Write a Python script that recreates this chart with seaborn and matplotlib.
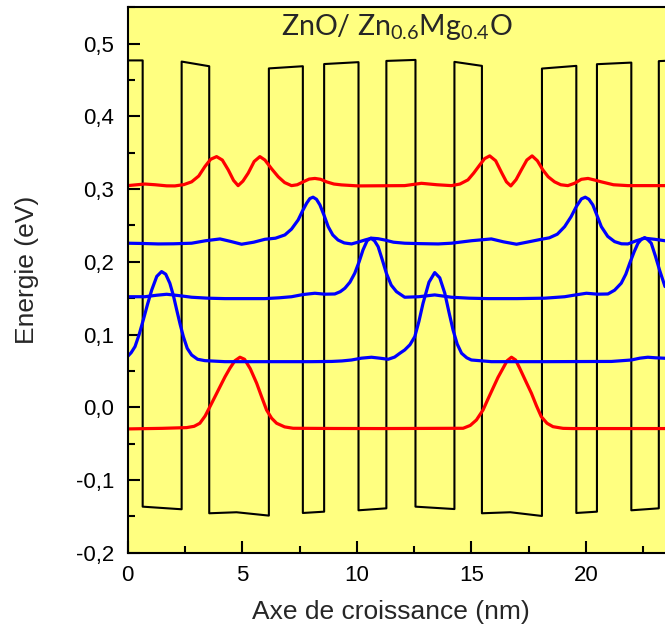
import matplotlib
matplotlib.use('Agg')
from matplotlib import pyplot as plt
from matplotlib.ticker import MultipleLocator, FuncFormatter
import pandas as pd
import seaborn as sns

# potential profile (barrier / well corners), nm and eV
pot_x = [0.0, 0.654, 0.654, 2.355, 2.355, 3.559, 3.559, 4.75, 6.162, 6.162, 7.645,
         7.645, 8.574, 8.574, 10.074, 10.074, 11.29, 11.29, 12.56, 12.56, 14.26,
         14.26, 15.46, 15.46, 16.7, 18.08, 18.08, 19.58, 19.58, 20.48, 20.48, 21.98,
         21.98, 23.18, 23.18, 23.5]
pot_e = [0.477, 0.477, -0.1367, -0.1403, 0.4754, 0.469, -0.1458, -0.1444, -0.149, 0.466, 0.469,
         -0.1454, -0.1436, 0.472, 0.4746, -0.1417, -0.139, 0.4763, 0.4777, -0.1367, -0.140,
         0.475, 0.4695, -0.1458, -0.1444, -0.1495, 0.4658, 0.4695, -0.1454, -0.1436, 0.4718, 0.474,
         -0.1417, -0.139, 0.476, 0.4765]

# red, ground level
e1_x = [0.0, 1.5, 2.57, 2.9, 3.15, 3.38, 3.59, 3.81, 4.03, 4.25, 4.46, 4.68, 4.9, 5.1, 5.35,
        5.63, 5.85, 6.06, 6.28, 6.5, 6.85, 7.22, 9.0, 11.0, 13.0, 14.64, 14.95, 15.22, 15.51,
        15.72, 15.94, 16.16, 16.38, 16.56, 16.75, 16.93, 17.11, 17.37, 17.62, 17.84, 18.05,
        18.3, 18.56, 19.0, 19.43, 23.45]
e1_y = [-0.0298, -0.029, -0.028, -0.0262, -0.022, -0.012, 0.0008, 0.0145, 0.0283, 0.042, 0.0536,
        0.064, 0.0688, 0.066, 0.053, 0.033, 0.014, -0.0037, -0.015, -0.022, -0.027, -0.0289,
        -0.0292, -0.0293, -0.0291, -0.0289, -0.025, -0.0175, -0.0037, 0.011, 0.026, 0.041, 0.0536,
        0.064, 0.0688, 0.065, 0.0536, 0.036, 0.0193, 0.002, -0.0129, -0.022, -0.0267, -0.029,
        -0.0293, -0.0293]

# blue levels
e2_x = [0.0, 0.15, 0.32, 0.5, 0.68, 0.87, 1.05, 1.27, 1.48, 1.66, 1.84, 2.0, 2.14, 2.29, 2.43,
        2.6, 2.79, 3.05, 3.37, 4.24, 5.99, 8.0, 8.9, 9.35, 9.77, 10.2, 10.64, 11.0, 11.37, 11.65,
        11.88, 12.09, 12.32, 12.53, 12.71, 12.89, 13.15, 13.4, 13.62, 13.84, 14.02, 14.2, 14.38,
        14.57, 14.8, 15.0, 15.87, 18.2, 21.11, 21.55, 21.98, 22.35, 22.7, 23.05, 23.45]
e2_y = [0.07, 0.075, 0.0834, 0.1, 0.12, 0.142, 0.1613, 0.18, 0.1866, 0.183, 0.1706, 0.153, 0.1338,
        0.114, 0.0971, 0.081, 0.0719, 0.066, 0.0641, 0.0627, 0.0627, 0.0627, 0.063, 0.0637, 0.065,
        0.0675, 0.0688, 0.0675, 0.066, 0.069, 0.0743, 0.0788, 0.086, 0.0971, 0.118, 0.143, 0.172,
        0.1852, 0.178, 0.1568, 0.131, 0.1063, 0.087, 0.0743, 0.068, 0.065, 0.0627, 0.0627, 0.063,
        0.064, 0.065, 0.0675, 0.0688, 0.068, 0.0674]

e3_x = [0.0, 0.75, 1.25, 1.7, 2.25, 2.79, 3.5, 4.24, 5.1, 5.99, 6.6, 7.15, 7.65, 8.17, 8.6, 9.04,
        9.28, 9.48, 9.7, 9.91, 10.1, 10.27, 10.45, 10.61, 10.77, 10.93, 11.1, 11.29, 11.5, 11.73,
        12.09, 12.7, 13.4, 14.13, 14.9, 15.73, 17.0, 18.2, 19.07, 19.55, 20.02, 20.5, 20.96,
        21.25, 21.54, 21.74, 21.91, 22.1, 22.27, 22.42, 22.56, 22.7, 22.85, 23.03, 23.21, 23.45]
e3_y = [0.152, 0.152, 0.154, 0.1554, 0.1535, 0.1513, 0.15, 0.1494, 0.1494, 0.1494, 0.1505, 0.152,
        0.155, 0.1568, 0.1555, 0.1558, 0.159, 0.1637, 0.172, 0.1843, 0.2, 0.2164, 0.229, 0.2325,
        0.229, 0.2209, 0.204, 0.1843, 0.168, 0.159, 0.1513, 0.152, 0.1545, 0.1513, 0.15, 0.1494,
        0.1494, 0.15, 0.152, 0.1545, 0.1568, 0.1555, 0.1558, 0.161, 0.1706, 0.183, 0.198, 0.2135,
        0.2256, 0.231, 0.2333, 0.2305, 0.2256, 0.208, 0.1889, 0.166]

e4_x = [0.0, 0.7, 1.33, 2.0, 2.79, 3.4, 4.03, 4.5, 4.97, 5.5, 5.99, 6.45, 6.86, 7.15, 7.44, 7.63,
        7.81, 7.95, 8.09, 8.24, 8.39, 8.57, 8.75, 8.95, 9.18, 9.45, 9.77, 10.05, 10.35, 10.64,
        10.93, 11.22, 11.6, 12.09, 12.8, 13.55, 14.13, 15.0, 15.87, 16.4, 16.97, 17.5, 18.05,
        18.4, 18.75, 19.07, 19.35, 19.58, 19.8, 19.97, 20.13, 20.3, 20.48, 20.67, 20.95, 21.25,
        21.55, 21.83, 22.2, 22.56, 23.0, 23.45]
e4_y = [0.2256, 0.2252, 0.2246, 0.2248, 0.2256, 0.229, 0.2315, 0.228, 0.2242, 0.227, 0.231, 0.2325,
        0.237, 0.245, 0.2576, 0.27, 0.2806, 0.287, 0.2889, 0.286, 0.2783, 0.264, 0.2484, 0.237,
        0.23, 0.226, 0.2246, 0.227, 0.23, 0.2325, 0.2318, 0.23, 0.227, 0.2256, 0.225, 0.2246,
        0.2256, 0.229, 0.2315, 0.2275, 0.2242, 0.2275, 0.231, 0.233, 0.238, 0.2484, 0.262, 0.276,
        0.2865, 0.2889, 0.286, 0.2783, 0.264, 0.2484, 0.235, 0.2278, 0.2248, 0.2246, 0.229, 0.2325,
        0.231, 0.229]

# red, upper level
e5_x = [0.0, 0.4, 0.75, 1.2, 1.7, 2.06, 2.45, 2.79, 3.1, 3.37, 3.62, 3.88, 4.13, 4.39, 4.62, 4.82,
        5.03, 5.26, 5.52, 5.77, 5.99, 6.28, 6.57, 6.85, 7.15, 7.4, 7.66, 7.92, 8.17, 8.42, 8.68,
        9.0, 9.33, 10.06, 11.0, 12.09, 12.82, 13.5, 14.13, 14.5, 14.85, 15.1, 15.36, 15.58, 15.8,
        16.06, 16.33, 16.53, 16.72, 16.95, 17.18, 17.42, 17.65, 17.88, 18.12, 18.35, 18.63, 18.9,
        19.21, 19.5, 19.8, 20.09, 20.38, 20.67, 21.2, 21.83, 23.45]
e5_y = [0.3048, 0.306, 0.307, 0.306, 0.3045, 0.3044, 0.3062, 0.31, 0.318, 0.331, 0.341, 0.3447,
        0.34, 0.3264, 0.312, 0.3048, 0.311, 0.322, 0.338, 0.3447, 0.34, 0.328, 0.317, 0.309, 0.3048,
        0.306, 0.31, 0.3138, 0.3147, 0.3135, 0.31, 0.307, 0.3058, 0.3044, 0.3046, 0.3048, 0.308,
        0.306, 0.3048, 0.307, 0.3127, 0.322, 0.333, 0.342, 0.3457, 0.339, 0.322, 0.31, 0.3044,
        0.313, 0.3264, 0.34, 0.3457, 0.339, 0.3264, 0.317, 0.31, 0.306, 0.3048, 0.308, 0.3135,
        0.3147, 0.3125, 0.31, 0.306, 0.3048, 0.3048]

curves = [(e1_x, e1_y, '#ff0000'), (e2_x, e2_y, '#0000ff'), (e3_x, e3_y, '#0000ff'),
          (e4_x, e4_y, '#0000ff'), (e5_x, e5_y, '#ff0000')]

sns.set_style('ticks')
plt.rcParams['font.family'] = ['Liberation Sans', 'DejaVu Sans']
plt.rcParams['mathtext.default'] = 'regular'

fig = plt.figure(figsize=(6.65, 6.32), dpi=100, facecolor='white')
ax = fig.add_axes([0.192, 0.1255, 0.808, 0.8629])
ax.set_facecolor('#ffff80')

pot = pd.DataFrame({'x': pot_x, 'E': pot_e})
sns.lineplot(data=pot, x='x', y='E', sort=False, estimator=None, color='black', linewidth=1.5, ax=ax)

for cx, cy, col in curves:
    sns.lineplot(x=cx, y=cy, sort=False, estimator=None, color=col, linewidth=2.3,
                 solid_joinstyle='round', solid_capstyle='round', ax=ax)

ax.set_xlim(0, 23.45)
ax.set_ylim(-0.2, 0.55)

ax.xaxis.set_major_locator(MultipleLocator(5))
ax.xaxis.set_minor_locator(MultipleLocator(2.5))
ax.yaxis.set_major_locator(MultipleLocator(0.1))
ax.yaxis.set_minor_locator(MultipleLocator(0.05))
ax.yaxis.set_major_formatter(FuncFormatter(lambda v, p: f'{round(v, 1) + 0:.1f}'.replace('.', ',')))
ax.xaxis.set_major_formatter(FuncFormatter(lambda v, p: f'{v:.0f}'))

ax.tick_params(which='both', direction='in', width=1.5, colors='black', labelsize=16)
ax.tick_params(which='major', length=8.5)
ax.tick_params(which='minor', length=4.8)
ax.tick_params(axis='y', pad=9.5)
ax.tick_params(axis='x', pad=9)

for side in ['left', 'bottom', 'top']:
    ax.spines[side].set_linewidth(1.5)
    ax.spines[side].set_color('black')
ax.spines['right'].set_visible(False)

ax.set_xlabel('Axe de croissance (nm)', fontsize=19, va='center')
ax.set_ylabel('Energie (eV)', fontsize=19, va='center')
ax.xaxis.set_label_coords(0.49, -0.109)
ax.yaxis.set_label_coords(-0.187, 0.518)

ax.text(0.5, 0.949, r'ZnO/ Zn$_{0.6}$Mg$_{0.4}$O', transform=ax.transAxes, ha='center',
        va='baseline', fontsize=20.5, family=['Lato', 'DejaVu Sans'])

fig.savefig('out.png', dpi=100, facecolor='white')
